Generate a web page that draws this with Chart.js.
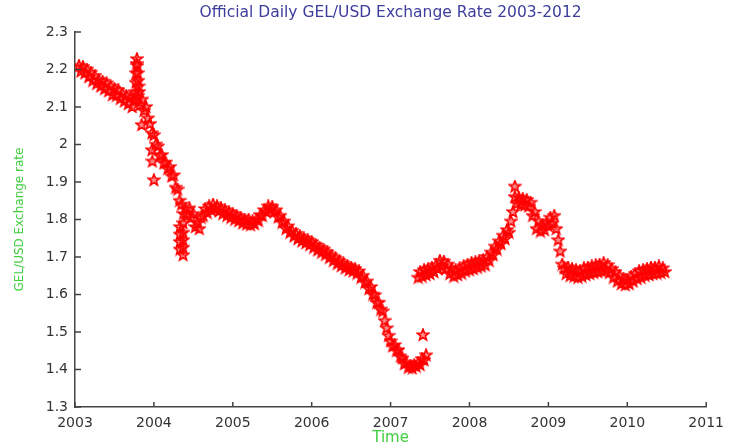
<!DOCTYPE html>
<html>
<head>
<meta charset="utf-8">
<title>GEL/USD exchange rate</title>
<script src="https://cdn.jsdelivr.net/npm/chart.js@4.4.1/dist/chart.umd.min.js"></script>
<style>
  html, body { margin: 0; padding: 0; background: #fff; }
  #rate-chart { display: block; }
</style>
</head>
<body>
<canvas id="rate-chart" width="732" height="448"></canvas>
<script>
// Official daily GEL per USD, one reading every 0.025 yr (about 9 days)
const sampleStep = 0.025;

// First run of readings, 2003.05 .. 2007.45 (rows of 8 = 0.2 yr)
const firstRunStart = 2003.05;
const firstRunRates = [
  2.21, 2.195, 2.207, 2.19, 2.2, 2.18, 2.192, 2.17,          // 2003.05
  2.183, 2.162, 2.172, 2.155, 2.168, 2.148, 2.163, 2.142,    // 2003.25
  2.155, 2.132, 2.148, 2.13, 2.145, 2.122, 2.136, 2.115,     // 2003.45
  2.13, 2.108, 2.125, 2.1, 2.118, 2.12, 2.13, 2.105,         // 2003.65
  2.12, 2.09, 2.1, 2.07, 2.055, 2.03, 2.025, 2.0,            // 2003.85
  1.995, 1.97, 1.972, 1.95, 1.952, 1.935, 1.94, 1.915,       // 2004.05
  1.918, 1.885, 1.88, 1.85, 1.84, 1.815, 1.828, 1.81,        // 2004.25
  1.83, 1.805, 1.815, 1.78, 1.79, 1.775, 1.805, 1.81,        // 2004.45
  1.828, 1.818, 1.835, 1.825, 1.84, 1.828, 1.835, 1.822,     // 2004.65
  1.83, 1.815, 1.825, 1.81, 1.82, 1.805, 1.815, 1.8,         // 2004.85
  1.81, 1.796, 1.805, 1.79, 1.8, 1.787, 1.8, 1.785,          // 2005.05
  1.795, 1.788, 1.8, 1.797, 1.812, 1.81, 1.825, 1.82,        // 2005.25
  1.835, 1.826, 1.834, 1.82, 1.825, 1.806, 1.81, 1.792,      // 2005.45
  1.795, 1.775, 1.782, 1.765, 1.77, 1.755, 1.762, 1.748,     // 2005.65
  1.755, 1.742, 1.75, 1.737, 1.745, 1.732, 1.74, 1.725,      // 2005.85
  1.732, 1.718, 1.725, 1.712, 1.72, 1.706, 1.713, 1.698,     // 2006.05
  1.704, 1.69, 1.697, 1.682, 1.69, 1.676, 1.683, 1.67,       // 2006.25
  1.677, 1.665, 1.672, 1.662, 1.668, 1.656, 1.662, 1.645,    // 2006.45
  1.65, 1.632, 1.635, 1.615, 1.62, 1.6, 1.598, 1.578,        // 2006.65
  1.578, 1.56, 1.555, 1.53, 1.51, 1.49, 1.475, 1.462,        // 2006.85
  1.465, 1.45, 1.452, 1.435, 1.43, 1.415, 1.418, 1.405,      // 2007.05
  1.41, 1.403, 1.412, 1.408, 1.418, 1.412, 1.428, 1.425,     // 2007.25
  1.438                                                      // 2007.45
];

// Second run of readings, 2007.35 .. 2010.475
const secondRunStart = 2007.35;
const secondRunRates = [
  1.645, 1.66, 1.648, 1.665, 1.652, 1.668, 1.655, 1.672,     // 2007.35
  1.66, 1.678, 1.668, 1.69, 1.675, 1.688, 1.668, 1.68,       // 2007.55
  1.655, 1.668, 1.648, 1.665, 1.652, 1.67, 1.656, 1.675,     // 2007.75
  1.662, 1.68, 1.665, 1.684, 1.668, 1.686, 1.672, 1.69,      // 2007.95
  1.675, 1.692, 1.678, 1.7, 1.69, 1.712, 1.705, 1.728,       // 2008.15
  1.72, 1.742, 1.735, 1.757, 1.748, 1.772, 1.765, 1.795,     // 2008.35
  1.82, 1.86, 1.842, 1.858, 1.84, 1.855, 1.838, 1.852,       // 2008.55
  1.835, 1.845, 1.81, 1.82, 1.775, 1.795, 1.768, 1.785,      // 2008.75
  1.772, 1.79, 1.782, 1.805, 1.79, 1.81, 1.775, 1.745,       // 2008.95
  1.715, 1.68, 1.67, 1.655, 1.672, 1.65, 1.668, 1.648,       // 2009.15
  1.665, 1.645, 1.662, 1.648, 1.67, 1.652, 1.672, 1.655,     // 2009.35
  1.675, 1.658, 1.678, 1.66, 1.68, 1.662, 1.684, 1.664,      // 2009.55
  1.678, 1.658, 1.668, 1.645, 1.66, 1.635, 1.65, 1.628,      // 2009.75
  1.642, 1.625, 1.64, 1.628, 1.648, 1.635, 1.655, 1.642,     // 2009.95
  1.662, 1.645, 1.665, 1.65, 1.668, 1.652, 1.672, 1.655,     // 2010.15
  1.672, 1.656, 1.675, 1.658, 1.67, 1.66                     // 2010.35
];

// Short-lived jumps and stray days away from the main band
const strayYears = [
  2003.765, 2003.77, 2003.775, 2003.78, 2003.785, 2003.79, 2003.795, 2003.8, 2003.805, 2003.81,
  2003.845, 2003.975, 2003.98, 2004.0,
  2004.33, 2004.33, 2004.33, 2004.33,
  2004.37, 2004.37, 2004.37, 2004.37, 2004.37,
  2007.41, 2008.575
];
const strayRates = [
  2.14, 2.165, 2.19, 2.215, 2.228, 2.21, 2.19, 2.17, 2.155, 2.14,
  2.052, 1.985, 1.955, 1.905,
  1.78, 1.76, 1.74, 1.72,
  1.79, 1.765, 1.745, 1.725, 1.705,
  1.492, 1.888
];

const xTicks = [2003, 2004, 2005, 2006, 2007, 2008, 2009, 2010, 2011];
const yTicks = [1.3, 1.4, 1.5, 1.6, 1.7, 1.8, 1.9, 2, 2.1, 2.2, 2.3];

const titleText = "Official Daily GEL/USD Exchange Rate 2003-2012";
const xLabel = "Time";
const yLabel = "GEL/USD Exchange rate";

const axisColor = "#444";
const tickColor = "#333";
const titleColor = "#3d3d9e";
const labelColor = "#3fcf3f";
const markColor = "#ff0000";

function runPoints(start, rates) {
  return rates.map((r, i) => ({ x: start + i * sampleStep, y: r }));
}

// five-pointed star used as the marker
function makeStar(size) {
  const c = document.createElement("canvas");
  c.width = size;
  c.height = size;
  const g = c.getContext("2d");
  const cx = size / 2, cy = size / 2;
  const outer = size / 2 - 1, inner = outer * 0.42;
  g.beginPath();
  for (let k = 0; k < 10; k++) {
    const rad = k % 2 === 0 ? outer : inner;
    const ang = -Math.PI / 2 + (k * Math.PI) / 5;
    const px = cx + rad * Math.cos(ang);
    const py = cy + rad * Math.sin(ang);
    if (k === 0) g.moveTo(px, py);
    else g.lineTo(px, py);
  }
  g.closePath();
  g.fillStyle = "rgba(255, 0, 0, 0.45)";
  g.fill();
  g.strokeStyle = markColor;
  g.lineWidth = 1.6;
  g.stroke();
  return c;
}

const starMarker = makeStar(14);

// inward tick marks, the plot title and axis labels
const framePlugin = {
  id: "frame",
  afterDraw(chart) {
    const { ctx, chartArea: a, scales } = chart;
    ctx.save();
    ctx.strokeStyle = axisColor;
    ctx.lineWidth = 1.5;
    ctx.beginPath();
    scales.x.ticks.forEach((t) => {
      const px = scales.x.getPixelForValue(t.value);
      ctx.moveTo(px, a.bottom);
      ctx.lineTo(px, a.bottom - 5);
    });
    scales.y.ticks.forEach((t) => {
      const py = scales.y.getPixelForValue(t.value);
      ctx.moveTo(a.left, py);
      ctx.lineTo(a.left + 6, py);
    });
    ctx.stroke();

    ctx.textAlign = "center";
    ctx.textBaseline = "middle";
    ctx.fillStyle = titleColor;
    ctx.font = '15.5px "DejaVu Sans"';
    ctx.fillText(titleText, (a.left + a.right) / 2, a.top - 19);

    ctx.fillStyle = labelColor;
    ctx.font = '15px "DejaVu Sans"';
    ctx.fillText(xLabel, (a.left + a.right) / 2, a.bottom + 31);

    ctx.translate(20, (a.top + a.bottom) / 2);
    ctx.rotate(-Math.PI / 2);
    ctx.font = '12px "DejaVu Sans"';
    ctx.fillText(yLabel, 0, 0);
    ctx.restore();
  },
};

const allPoints = runPoints(firstRunStart, firstRunRates)
  .concat(runPoints(secondRunStart, secondRunRates))
  .concat(strayYears.map((yr, i) => ({ x: yr, y: strayRates[i] })));

new Chart(document.getElementById("rate-chart"), {
  type: "scatter",
  data: {
    datasets: [
      {
        label: "GEL/USD",
        data: allPoints,
        pointStyle: starMarker,
        radius: 5,
        hoverRadius: 5,
        borderColor: markColor,
        backgroundColor: markColor,
      },
    ],
  },
  options: {
    responsive: false,
    animation: false,
    layout: { padding: { top: 32, right: 17, left: 0, bottom: 0 } },
    plugins: {
      legend: { display: false },
      tooltip: { enabled: false },
    },
    scales: {
      x: {
        type: "linear",
        min: 2003,
        max: 2011,
        afterBuildTicks: (s) => { s.ticks = xTicks.map((v) => ({ value: v })); },
        afterFit: (s) => { s.height = 41; },
        grid: { display: false, drawTicks: false },
        border: { display: true, color: axisColor, width: 1.5 },
        ticks: {
          color: tickColor,
          padding: 8,
          maxRotation: 0,
          font: { family: "DejaVu Sans", size: 14 },
          callback: (v) => String(v),
        },
      },
      y: {
        type: "linear",
        min: 1.3,
        max: 2.3,
        afterBuildTicks: (s) => { s.ticks = yTicks.map((v) => ({ value: v })); },
        afterFit: (s) => { s.width = 75; },
        grid: { display: false, drawTicks: false },
        border: { display: true, color: axisColor, width: 1.5 },
        ticks: {
          color: tickColor,
          padding: 7,
          font: { family: "DejaVu Sans", size: 14 },
          callback: (v) => String(Math.round(v * 10) / 10),
        },
      },
    },
  },
  plugins: [framePlugin],
});
</script>
</body>
</html>
